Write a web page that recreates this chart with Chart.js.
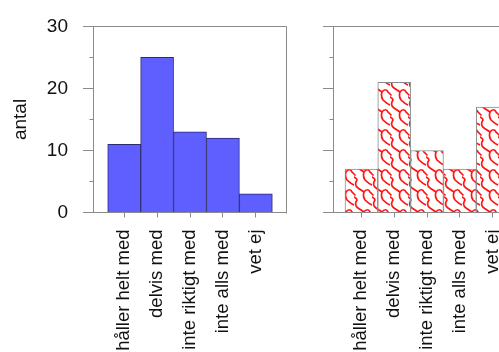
<!DOCTYPE html>
<html>
<head>
<meta charset="utf-8">
<script src="https://cdn.jsdelivr.net/npm/chart.js@4"></script>
<style>
  html, body { margin: 0; padding: 0; width: 499px; height: 352px; overflow: hidden; background: #fff; }
  #left { position: absolute; left: 0; top: 0; }
  #right { position: absolute; left: 300px; top: 0; }
</style>
</head>
<body>
<canvas id="left" width="310" height="352"></canvas>
<canvas id="right" width="260" height="352"></canvas>
<script>
// ===== Data =====
const categories = ["håller helt med", "delvis med", "inte riktigt med", "inte alls med", "vet ej"];
const positions = [1, 2, 3, 4, 5];
const countsLeft = [11, 25, 13, 12, 3];
const countsRight = [7, 21, 10, 7, 17];
const yMajorStep = 10;
const yMinorTicks = [5, 15, 25];

const axisColor = "#8a8a8a";
const textColor = "#111";
const fontFamily = "'Liberation Sans', Arial, Helvetica, sans-serif";

// red wavy tile for the right panel
const makePattern = () => {
  const tile = document.createElement("canvas");
  tile.width = 18;
  tile.height = 20;
  const c = tile.getContext("2d");
  c.fillStyle = "#fff";
  c.fillRect(0, 0, 18, 20);
  c.strokeStyle = "#ff1414";
  c.lineWidth = 1.7;
  c.lineCap = "round";
  c.beginPath();
  // stub + diagonal going down-right
  c.moveTo(3, 0);
  c.bezierCurveTo(1, 3, 1, 6, 4, 8);
  c.lineTo(10, 12);
  c.bezierCurveTo(12, 9, 15, 9, 16, 12);
  c.lineTo(18, 14);
  // stub down from the joint
  c.moveTo(10, 12);
  c.bezierCurveTo(9, 15, 9, 17, 11, 20);
  // wrap-around pieces
  c.moveTo(0, 14);
  c.lineTo(1, 15);
  c.moveTo(0, 17);
  c.bezierCurveTo(2, 18, 3, 19, 3, 20);
  c.moveTo(11, 0);
  c.bezierCurveTo(13, 2, 15, 4, 18, 5);
  c.stroke();
  return c.createPattern(tile, "repeat");
};

const toPoints = (vals) => vals.map((v, i) => ({ x: positions[i], y: v }));

// minor ticks + box frame
const framePlugin = {
  id: "frame",
  afterDraw(chart) {
    const { ctx, chartArea, scales } = chart;
    const left = Math.round(chartArea.left) + 0.5;
    const right = Math.round(chartArea.right) + 0.5;
    const top = Math.round(chartArea.top) + 0.5;
    ctx.save();
    ctx.strokeStyle = axisColor;
    ctx.lineWidth = 1;
    ctx.beginPath();
    yMinorTicks.forEach((v) => {
      const py = Math.round(scales.y.getPixelForValue(v)) + 0.5;
      ctx.moveTo(left - 4, py);
      ctx.lineTo(left, py);
    });
    ctx.moveTo(left, top);
    ctx.lineTo(right, top);
    ctx.lineTo(right, Math.round(chartArea.bottom) + 0.5);
    ctx.stroke();
    ctx.restore();
  },
};

const makeOptions = ({ xMin, xMax, yWidth, padRight, showLabels }) => ({
  responsive: false,
  animation: false,
  layout: { padding: { top: 23, right: padRight, left: 0, bottom: 0 } },
  plugins: { legend: { display: false }, tooltip: { enabled: false } },
  scales: {
    x: {
      type: "linear",
      min: xMin,
      max: xMax,
      offset: false,
      afterBuildTicks: (s) => { s.ticks = positions.map((v) => ({ value: v })); },
      afterFit: (s) => { s.height = 139.5; },
      grid: { drawOnChartArea: false, offset: false, tickLength: 5, color: axisColor },
      border: { color: axisColor },
      ticks: {
        autoSkip: false,
        maxRotation: 90,
        minRotation: 90,
        padding: 12,
        color: textColor,
        font: { family: fontFamily, size: 18.5 },
        callback: (v) => categories[v - 1],
      },
    },
    y: {
      min: 0,
      max: 30,
      afterFit: (s) => { s.width = yWidth; },
      grid: { drawOnChartArea: false, tickLength: 10, color: axisColor },
      border: { color: axisColor },
      ticks: {
        stepSize: yMajorStep,
        padding: 15,
        color: textColor,
        font: { family: fontFamily, size: 19 },
        callback: (v) => (showLabels ? v : ""),
      },
      title: {
        display: showLabels,
        text: "antal",
        color: textColor,
        font: { family: fontFamily, size: 19 },
        padding: { top: 9.5, bottom: 0 },
      },
    },
  },
});

// ===== Left panel =====
new Chart(document.getElementById("left"), {
  type: "bar",
  data: {
    datasets: [{
      data: toPoints(countsLeft),
      backgroundColor: "#5f5fff",
      borderColor: "#2b2b70",
      borderWidth: 1,
      barPercentage: 1,
      categoryPercentage: 1,
    }],
  },
  options: makeOptions({ xMin: 0.053, xMax: 5.9, yWidth: 93, padRight: 24.5, showLabels: true }),
  plugins: [framePlugin],
});

// ===== Right panel =====
new Chart(document.getElementById("right"), {
  type: "bar",
  data: {
    datasets: [{
      data: toPoints(countsRight),
      backgroundColor: makePattern(),
      borderColor: "#8a8a8a",
      borderWidth: 1,
      barPercentage: 1,
      categoryPercentage: 1,
    }],
  },
  options: makeOptions({ xMin: 0.135, xMax: 5.985, yWidth: 33, padRight: 35, showLabels: false }),
  plugins: [framePlugin],
});
</script>
</body>
</html>
